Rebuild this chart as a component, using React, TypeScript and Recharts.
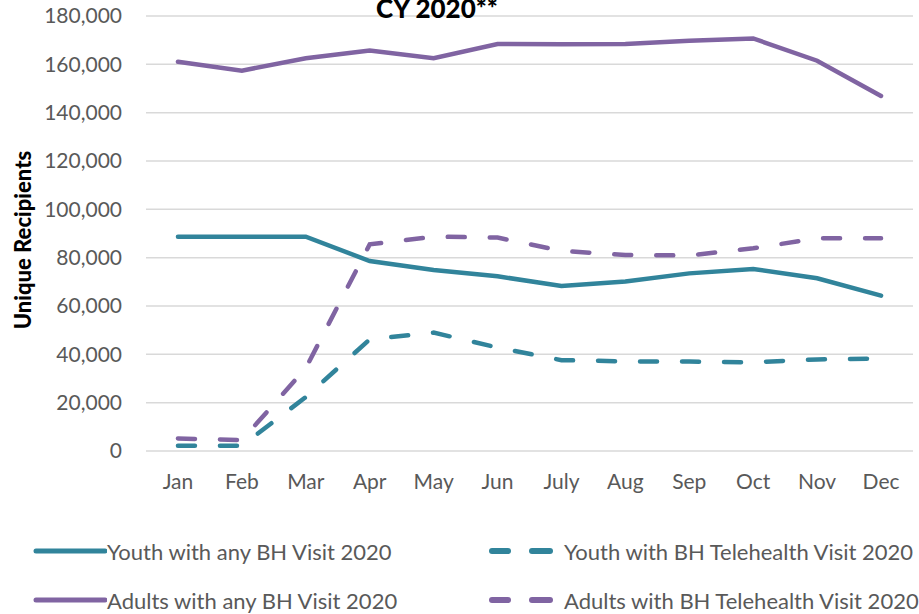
import React from 'react';
import { LineChart, Line, XAxis, YAxis, CartesianGrid } from 'recharts';

const MONTHS = ['Jan', 'Feb', 'Mar', 'Apr', 'May', 'Jun', 'July', 'Aug', 'Sep', 'Oct', 'Nov', 'Dec'];
const YOUTH_ANY = [88700, 88700, 88700, 78600, 74900, 72300, 68300, 70100, 73500, 75300, 71500, 64300];
const YOUTH_TELE = [2200, 2200, 22300, 46200, 49000, 42800, 37600, 37100, 37000, 36700, 37900, 38300];
const ADULTS_ANY = [161100, 157400, 162500, 165700, 162500, 168400, 168300, 168400, 169800, 170700, 161500, 146900];
const ADULTS_TELE = [5200, 4500, 34300, 85500, 88700, 88300, 82800, 81100, 80900, 83900, 88000, 88000];
const Y_TICKS = [0, 20000, 40000, 60000, 80000, 100000, 120000, 140000, 160000, 180000];
const BOUNDARY_TICKS = [0, 1, 2, 3, 4, 5, 6, 7, 8, 9, 10, 11, 12];

const TEAL = '#31849B';
const PURPLE = '#8064A2';
const GRID = '#D9D9D9';
const TEXT = '#595959';
const FONT = 'Lato, sans-serif';
const DASH = '17 25';

const SERIES = [
  { key: 'youthAny', name: 'Youth with any BH Visit 2020', color: TEAL, dashed: false },
  { key: 'youthTele', name: 'Youth with BH Telehealth Visit 2020', color: TEAL, dashed: true },
  { key: 'adultsAny', name: 'Adults with any BH Visit 2020', color: PURPLE, dashed: false },
  { key: 'adultsTele', name: 'Adults with BH Telehealth Visit 2020', color: PURPLE, dashed: true },
];

const data = MONTHS.map((m, i) => ({
  month: m,
  youthAny: YOUTH_ANY[i],
  youthTele: YOUTH_TELE[i],
  adultsAny: ADULTS_ANY[i],
  adultsTele: ADULTS_TELE[i],
}));

const LegendItem: React.FC<{ s: typeof SERIES[number]; left: number; top: number }> = ({ s, left, top }) => (
  <div style={{ position: 'absolute', left, top, display: 'flex', alignItems: 'center', height: 24 }}>
    <svg width={76} height={10} style={{ display: 'block' }}>
      {s.dashed ? (
        <>
          <line x1={4} y1={5} x2={20} y2={5} stroke={s.color} strokeWidth={6} strokeLinecap="round" />
          <line x1={44} y1={5} x2={62} y2={5} stroke={s.color} strokeWidth={6} strokeLinecap="round" />
        </>
      ) : (
        <line x1={5} y1={5} x2={74} y2={5} stroke={s.color} strokeWidth={5} strokeLinecap="round" />
      )}
    </svg>
    <span style={{ fontFamily: FONT, fontSize: 22, color: TEXT, whiteSpace: 'nowrap' }}>{s.name}</span>
  </div>
);

const YLabel = () => (
  <text
    x={22}
    y={240}
    transform="rotate(-90 22 240)"
    textAnchor="middle"
    dominantBaseline="central"
    fontFamily={FONT}
    fontWeight={900}
    fontSize={22}
    fill="#000"
  >
    Unique Recipients
  </text>
);

export default function App() {
  return (
    <div style={{ position: 'absolute', left: 0, top: 0, width: 919, height: 614, background: '#fff', overflow: 'hidden' }}>
      <LineChart width={919} height={614} data={data} margin={{ top: 16, right: 6, bottom: 113, left: 0 }}>
        <CartesianGrid vertical={false} stroke={GRID} strokeWidth={1.5} />
        <XAxis
          xAxisId="edges"
          type="number"
          domain={[0, 12]}
          ticks={BOUNDARY_TICKS}
          tick={false}
          tickSize={7}
          height={0}
          stroke={GRID}
          strokeWidth={1.5}
        />
        <XAxis
          dataKey="month"
          scale="band"
          axisLine={false}
          tickLine={false}
          tickSize={0}
          tickMargin={23}
          height={50}
          interval={0}
          tick={{ fill: TEXT, fontSize: 21, fontFamily: FONT }}
        />
        <YAxis
          domain={[0, 180000]}
          ticks={Y_TICKS}
          width={146}
          axisLine={false}
          tickLine={false}
          tickSize={0}
          tickMargin={24}
          tickFormatter={(v: number) => v.toLocaleString('en-US')}
          tick={{ fill: TEXT, fontSize: 21, fontFamily: FONT }}
          label={{ content: () => <YLabel /> }}
        />
        {SERIES.map(s => (
          <Line
            key={s.key}
            dataKey={s.key}
            name={s.name}
            stroke={s.color}
            strokeWidth={4.5}
            strokeDasharray={s.dashed ? DASH : undefined}
            strokeLinecap="round"
            dot={false}
            activeDot={false}
            isAnimationActive={false}
          />
        ))}
        <text x={437} y={18} textAnchor="middle" fontFamily={FONT} fontWeight={900} fontSize={26} fill="#000">
          CY 2020**
        </text>
      </LineChart>
      <LegendItem s={SERIES[0]} left={31} top={539} />
      <LegendItem s={SERIES[1]} left={488} top={539} />
      <LegendItem s={SERIES[2]} left={31} top={588} />
      <LegendItem s={SERIES[3]} left={488} top={588} />
    </div>
  );
}
